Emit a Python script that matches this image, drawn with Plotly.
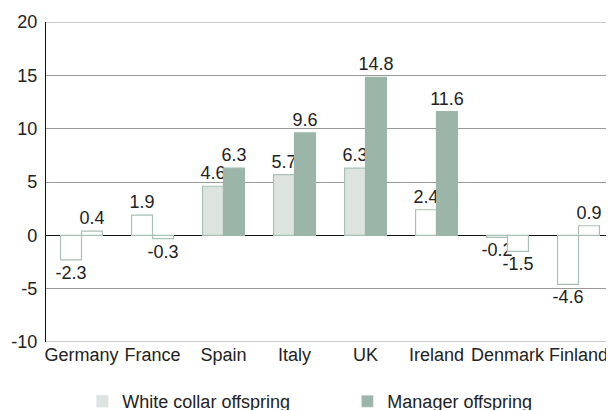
import plotly.graph_objects as go

countries = ["Germany", "France", "Spain", "Italy", "UK", "Ireland", "Denmark", "Finland"]
white_collar = [-2.3, 1.9, 4.6, 5.7, 6.3, 2.4, -0.2, -4.6]
manager = [0.4, -0.3, 6.3, 9.6, 14.8, 11.6, -1.5, 0.9]
# filled bars = significant, hollow bars = not significant
white_collar_filled = [False, False, True, True, True, False, False, False]
manager_filled = [False, False, True, True, True, True, False, False]
y_ticks = [-10, -5, 0, 5, 10, 15, 20]

WC_FILL = "#dde4e0"
MG_FILL = "#9bb5a8"
EDGE = "#a7c1b4"
FONT = "Liberation Sans, Arial, sans-serif"

fig = go.Figure()
fig.add_trace(go.Bar(
    x=countries, y=white_collar, name="White collar offspring", showlegend=False,
    text=[f"{v:.1f}" for v in white_collar], textposition="outside",
    marker=dict(color=[WC_FILL if f else "white" for f in white_collar_filled],
                line=dict(color=EDGE, width=1.2)),
))
fig.add_trace(go.Bar(
    x=countries, y=manager, name="Manager offspring", showlegend=False,
    text=[f"{v:.1f}" for v in manager], textposition="outside",
    marker=dict(color=[MG_FILL if f else "white" for f in manager_filled],
                line=dict(color=[MG_FILL if f else EDGE for f in manager_filled], width=1.2)),
))
fig.update_traces(constraintext="none", cliponaxis=False,
                  textfont=dict(size=18, color="#222222"))

# legend entries with solid swatches, on a hidden axis so they don't shift the groups
for name, col in [("White collar offspring", WC_FILL), ("Manager offspring", MG_FILL)]:
    fig.add_trace(go.Bar(x=[0], y=[None], name=name, marker_color=col,
                         xaxis="x2", yaxis="y2"))

# page body has an 8px margin, so the figure is a bit smaller than the window
fig.update_layout(
    width=606, height=402,
    margin=dict(l=38, r=0, t=14, b=68, autoexpand=False),
    paper_bgcolor="white", plot_bgcolor="white",
    font=dict(family=FONT, size=18, color="#222222"),
    barmode="group", bargap=0.41, bargroupgap=0,
    legend=dict(orientation="h", x=0.064, xanchor="left", y=-0.128, yanchor="top",
                entrywidth=220, entrywidthmode="pixels",
                font=dict(size=18), bgcolor="rgba(0,0,0,0)"),
    xaxis=dict(showgrid=False, showline=False, ticks="", tickfont=dict(size=18)),
    yaxis=dict(range=[-10, 20], tickvals=y_ticks, ticktext=[str(t) for t in y_ticks],
               showgrid=True, gridcolor="#999999", gridwidth=1,
               zeroline=True, zerolinecolor="#111111", zerolinewidth=1.2,
               showline=True, linecolor="#111111", linewidth=1.2,
               ticks="", ticklabelstandoff=4, tickfont=dict(size=18)),
    xaxis2=dict(overlaying="x", visible=False),
    yaxis2=dict(overlaying="y", visible=False, range=[0, 1]),
)
# gridlines at the range edges
for yv in (y_ticks[0], y_ticks[-1]):
    fig.add_shape(type="line", xref="paper", x0=0, x1=1, yref="y", y0=yv, y1=yv,
                  line=dict(color="#999999", width=1), layer="below")

fig.write_html("out.html")
